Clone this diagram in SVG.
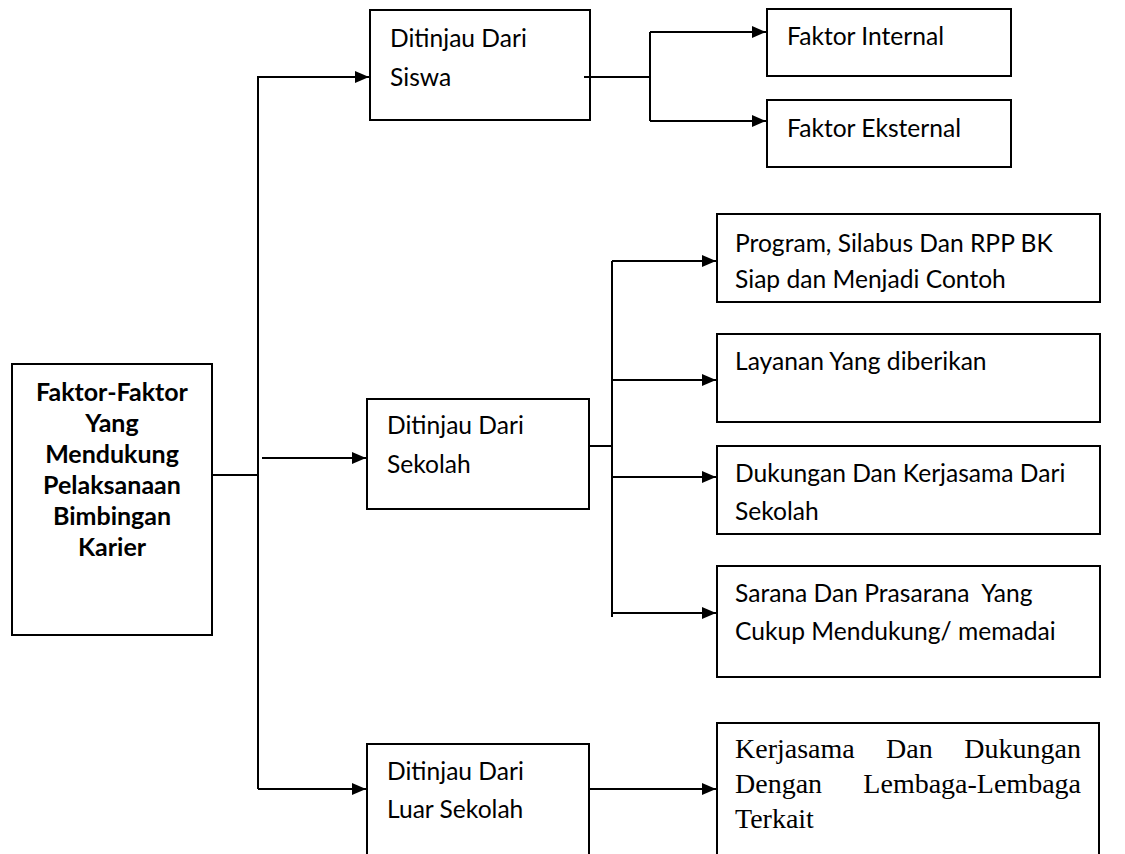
<svg xmlns="http://www.w3.org/2000/svg" width="1125" height="854" viewBox="0 0 1125 854">
<style>
.box{fill:#fff;stroke:#000;stroke-width:2}
.t{font-family:Lato,"Liberation Sans",sans-serif;font-size:24.6px;fill:#000}
.b{font-family:Lato,"Liberation Sans",sans-serif;font-size:25px;font-weight:bold;fill:#000;text-anchor:middle}
.s{font-family:"Liberation Serif","Times New Roman",serif;font-size:28px;fill:#000}
.c{fill:none;stroke:#000;stroke-width:2}
</style>
<defs>
<marker id="ah" markerUnits="userSpaceOnUse" markerWidth="14" markerHeight="12" viewBox="0 0 14 12" refX="14" refY="6" orient="auto">
<path d="M0,0 L14,6 L0,12 z" fill="#000"/>
</marker>
</defs>
<g id="main">
<rect class="box" x="12" y="364" width="200" height="271"/>
<text class="b" x="112" y="401">Faktor-Faktor</text>
<text class="b" x="112" y="432">Yang</text>
<text class="b" x="112" y="463">Mendukung</text>
<text class="b" x="112" y="494">Pelaksanaan</text>
<text class="b" x="112" y="525">Bimbingan</text>
<text class="b" x="112" y="556">Karier</text>
</g>
<g id="siswa">
<rect class="box" x="370" y="10" width="220" height="110"/>
<text class="t" x="390" y="47">Ditinjau Dari</text>
<text class="t" x="390" y="86">Siswa</text>
</g>
<g id="internal">
<rect class="box" x="767" y="9" width="244" height="67"/>
<text class="t" x="787" y="45">Faktor Internal</text>
</g>
<g id="eksternal">
<rect class="box" x="767" y="100" width="244" height="67"/>
<text class="t" x="787" y="137">Faktor Eksternal</text>
</g>
<g id="sekolah">
<rect class="box" x="367" y="399" width="222" height="110"/>
<text class="t" x="387" y="434">Ditinjau Dari</text>
<text class="t" x="387" y="473">Sekolah</text>
</g>
<g id="program">
<rect class="box" x="717" y="214" width="383" height="88"/>
<text class="t" x="735" y="252">Program, Silabus Dan RPP BK</text>
<text class="t" x="735" y="288">Siap dan Menjadi Contoh</text>
</g>
<g id="layanan">
<rect class="box" x="717" y="334" width="383" height="88"/>
<text class="t" x="735" y="370">Layanan Yang diberikan</text>
</g>
<g id="dukungan">
<rect class="box" x="717" y="446" width="383" height="88"/>
<text class="t" x="735" y="482">Dukungan Dan Kerjasama Dari</text>
<text class="t" x="735" y="520">Sekolah</text>
</g>
<g id="sarana">
<rect class="box" x="717" y="566" width="383" height="111"/>
<text class="t" x="735" y="602" xml:space="preserve">Sarana Dan Prasarana  Yang</text>
<text class="t" x="735" y="640">Cukup Mendukung/ memadai</text>
</g>
<g id="luar">
<rect class="box" x="367" y="744" width="222" height="120"/>
<text class="t" x="387" y="780">Ditinjau Dari</text>
<text class="t" x="387" y="818">Luar Sekolah</text>
</g>
<g id="kerjasama">
<rect class="box" x="717" y="723" width="382" height="141"/>
<text class="s" x="735" y="758">Kerjasama</text>
<text class="s" x="886" y="758">Dan</text>
<text class="s" x="1081" y="758" text-anchor="end">Dukungan</text>
<text class="s" x="735" y="793">Dengan</text>
<text class="s" x="1081" y="793" text-anchor="end">Lembaga-Lembaga</text>
<text class="s" x="735" y="828">Terkait</text>
</g>
<g id="connectors">
<path class="c" d="M212,475 H258"/>
<path class="c" d="M258,789 V77 H369" marker-end="url(#ah)"/>
<path class="c" d="M262,458 H366" marker-end="url(#ah)"/>
<path class="c" d="M258,789 H366" marker-end="url(#ah)"/>
<path class="c" d="M584,77 H650"/>
<path class="c" d="M650,32 V121"/>
<path class="c" d="M650,32 H766" marker-end="url(#ah)"/>
<path class="c" d="M650,121 H766" marker-end="url(#ah)"/>
<path class="c" d="M589,446 H612"/>
<path class="c" d="M612,261 V617"/>
<path class="c" d="M612,261 H716" marker-end="url(#ah)"/>
<path class="c" d="M612,380 H716" marker-end="url(#ah)"/>
<path class="c" d="M612,477 H716" marker-end="url(#ah)"/>
<path class="c" d="M612,613 H716" marker-end="url(#ah)"/>
<path class="c" d="M589,789 H716" marker-end="url(#ah)"/>
</g>
</svg>
